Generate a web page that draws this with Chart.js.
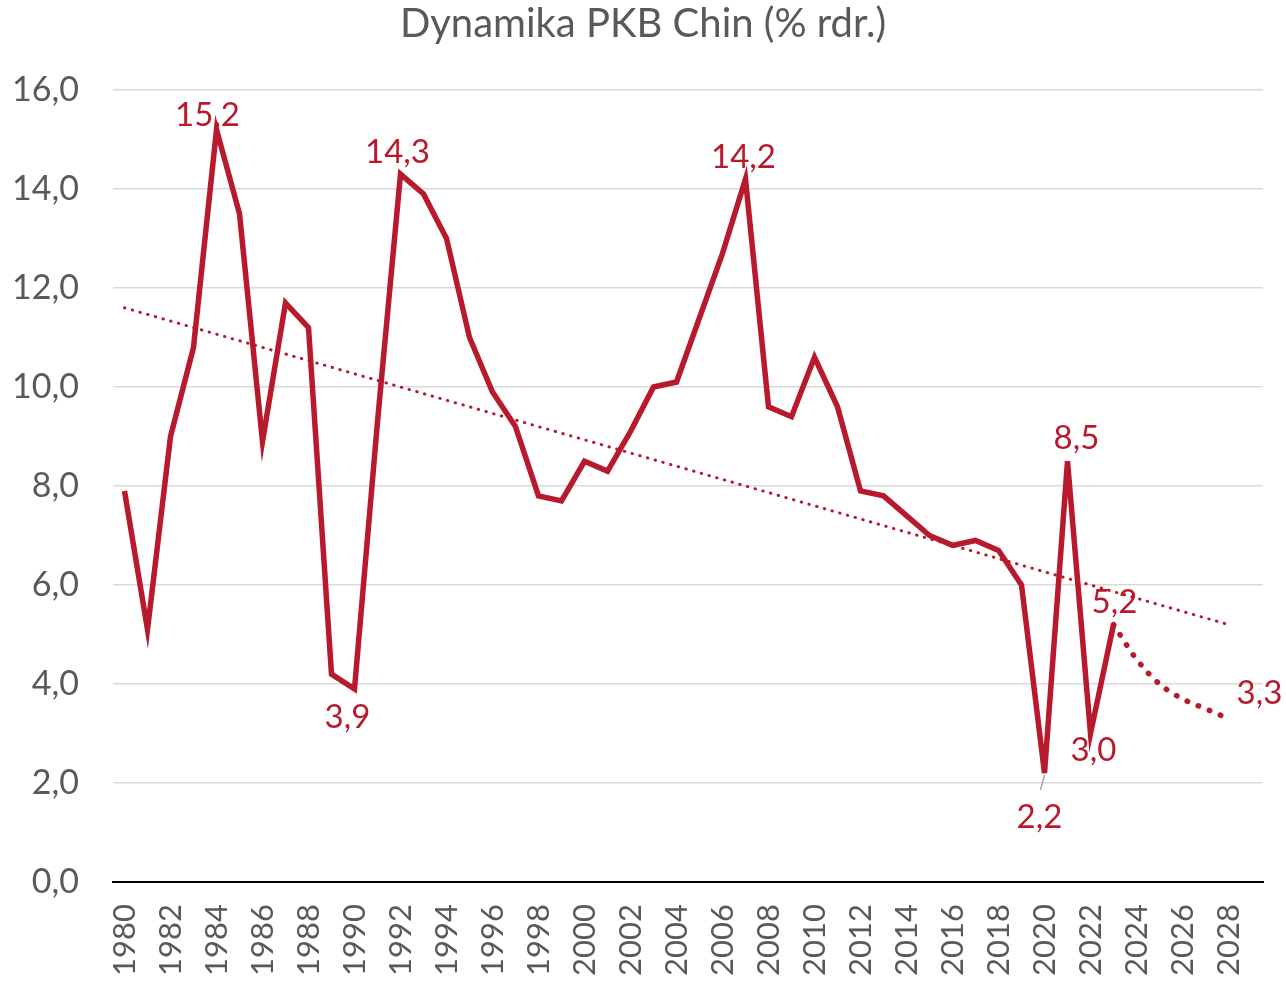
<!DOCTYPE html>
<html>
<head>
<meta charset="utf-8">
<script src="https://cdn.jsdelivr.net/npm/chart.js@4/dist/chart.umd.min.js"></script>
<style>
  html, body { margin: 0; padding: 0; background: #fff; overflow: hidden; }
  canvas { display: block; }
</style>
</head>
<body>
<canvas id="chartPKB" width="1286" height="982"></canvas>
<script>
var years = [];
for (var y = 1980; y <= 2029; y++) years.push(y);

// realne tempo wzrostu PKB, 1980-2023
var pkb = [
    7.9, 5.1, 9.0, 10.8, 15.2, 13.5, 8.9, 11.7, 11.2, 4.2,
    3.9, 9.3, 14.3, 13.9, 13.0, 11.0, 9.9, 9.2, 7.8, 7.7,
    8.5, 8.3, 9.1, 10.0, 10.1, 11.4, 12.7, 14.2, 9.6, 9.4,
    10.6, 9.6, 7.9, 7.8, 7.4, 7.0, 6.8, 6.9, 6.7, 6.0,
    2.2, 8.5, 3.0, 5.2, null, null, null, null, null, null
];

// prognoza 2023-2028
var prognoza = [
    null, null, null, null, null, null, null, null, null, null,
    null, null, null, null, null, null, null, null, null, null,
    null, null, null, null, null, null, null, null, null, null,
    null, null, null, null, null, null, null, null, null, null,
    null, null, null, 5.2, 4.5, 4.0, 3.7, 3.5, 3.3, null
];

// linia trendu: wartości odczytane na końcach
var trend = years.map(function () { return null; });
trend[0] = 11.6;
trend[48] = 5.2;

var yTicks = [0, 2, 4, 6, 8, 10, 12, 14, 16];

var RED = '#b8192c';
var GREY = '#595959';
var FONT = 'Lato, "Open Sans", sans-serif';

var fmt = function (v) { return Number(v).toFixed(1).replace('.', ','); };

// gdzie stoją etykiety danych względem punktu
var etykiety = {
    0: { 4: [-9, -14], 10: [-7, 28], 12: [-3, -22], 27: [-2, -22], 40: [-5, 44], 41: [9, -23], 42: [3, 17], 43: [1, -22] },
    1: { 48: [31, -25] }
};

var etykietyPlugin = {
    id: 'etykiety',
    afterDatasetsDraw: function (chart) {
        var ctx = chart.ctx;
        ctx.save();
        ctx.font = '33px ' + FONT;
        ctx.fillStyle = RED;
        ctx.textAlign = 'center';
        ctx.textBaseline = 'middle';
        Object.keys(etykiety).forEach(function (di) {
            var meta = chart.getDatasetMeta(+di);
            var ds = chart.data.datasets[+di];
            Object.keys(etykiety[di]).forEach(function (idx) {
                var pt = meta.data[+idx];
                var off = etykiety[di][idx];
                if (!pt || ds.data[+idx] == null) return;
                if (+di === 0 && +idx === 40) {
                    // linia odniesienia do etykiety 2,2
                    ctx.strokeStyle = '#a6a6a6';
                    ctx.lineWidth = 1.5;
                    ctx.beginPath();
                    ctx.moveTo(pt.x, pt.y + 2);
                    ctx.lineTo(pt.x - 4, pt.y + 17);
                    ctx.stroke();
                }
                ctx.fillText(fmt(ds.data[+idx]), pt.x + off[0], pt.y + off[1]);
            });
        });
        ctx.restore();
    }
};

new Chart(document.getElementById('chartPKB'), {
    type: 'line',
    data: {
        labels: years,
        datasets: [
            {
                label: 'PKB',
                data: pkb,
                borderColor: RED,
                borderWidth: 5.5,
                pointRadius: 0,
                tension: 0,
                order: 1
            },
            {
                label: 'Prognoza',
                data: prognoza,
                borderColor: RED,
                borderWidth: 5.5,
                borderDash: [0.5, 11.5],
                borderCapStyle: 'round',
                pointRadius: 0,
                tension: 0.4,
                cubicInterpolationMode: 'monotone',
                order: 2
            },
            {
                label: 'Trend',
                data: trend,
                borderColor: RED,
                borderWidth: 3,
                borderDash: [0.5, 7.5],
                borderCapStyle: 'round',
                pointRadius: 0,
                spanGaps: true,
                order: 3
            }
        ]
    },
    options: {
        responsive: false,
        animation: false,
        layout: { padding: 0 },
        plugins: {
            legend: { display: false },
            tooltip: { enabled: false },
            title: {
                display: true,
                text: 'Dynamika PKB Chin (% rdr.)',
                color: GREY,
                font: { family: FONT, size: 40, weight: 'normal' },
                padding: { top: 0, bottom: 42 }
            }
        },
        scales: {
            x: {
                offset: true,
                grid: { display: false, drawTicks: false },
                border: { color: '#000', width: 2 },
                afterFit: function (s) {
                    s.height = 100;
                    s.paddingLeft = 0;
                    s.paddingRight = 23;
                },
                ticks: {
                    autoSkip: false,
                    minRotation: 90,
                    maxRotation: 90,
                    padding: 22,
                    color: GREY,
                    font: { family: FONT, size: 31 },
                    callback: function (v, i) { return years[i] % 2 === 0 ? String(years[i]) : ''; }
                }
            },
            y: {
                min: 0,
                max: 16,
                afterBuildTicks: function (s) { s.ticks = yTicks.map(function (v) { return { value: v }; }); },
                afterFit: function (s) { s.width = 113; },
                border: { display: false },
                grid: {
                    drawTicks: false,
                    lineWidth: 1.5,
                    color: function (c) { return c.tick && c.tick.value === 0 ? 'rgba(0,0,0,0)' : '#d9d9d9'; }
                },
                ticks: {
                    padding: 34,
                    color: GREY,
                    font: { family: FONT, size: 34 },
                    callback: function (v) { return fmt(v); }
                }
            }
        }
    },
    plugins: [etykietyPlugin]
});
</script>
</body>
</html>
